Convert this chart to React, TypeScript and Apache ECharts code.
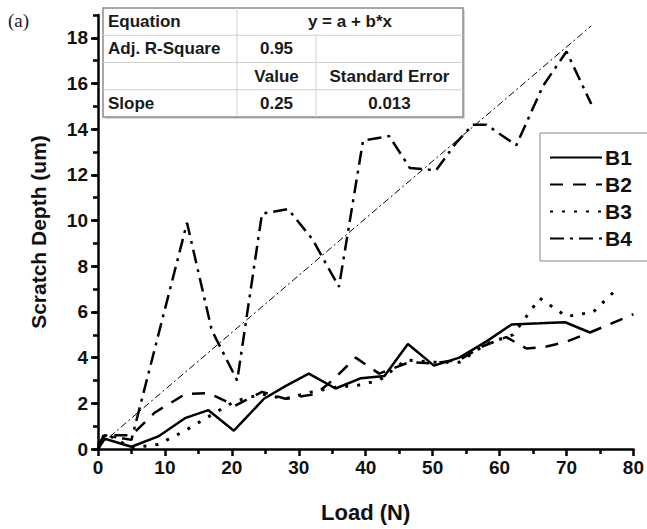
import React, { useEffect, useRef } from "react";
import * as echarts from "echarts";

const b1Load = [0, 1, 5, 9, 13, 16.5, 20.3, 24.8, 28, 31.5, 35.5, 39.3, 42.8, 46.3, 50.2, 54, 58, 61.8, 66, 69.8, 73.5];
const b1Depth = [0, 0.45, 0.1, 0.55, 1.35, 1.7, 0.8, 2.2, 2.75, 3.3, 2.65, 3.1, 3.2, 4.6, 3.65, 4.0, 4.7, 5.45, 5.5, 5.55, 5.1];

const b2Load = [0, 1, 5, 8.5, 13, 16.5, 20.5, 24.5, 28, 32.5, 35, 38.5, 42, 46.5, 50, 54, 57.5, 61, 64, 66.5, 70, 73.5, 80];
const b2Depth = [0.1, 0.6, 0.6, 1.6, 2.4, 2.45, 1.9, 2.5, 2.2, 2.4, 3.0, 4.0, 3.3, 3.8, 3.75, 3.9, 4.5, 4.9, 4.4, 4.45, 4.7, 5.1, 5.9];

const b3Load = [0, 1, 5, 9, 13, 17, 20.5, 24.5, 28, 32, 35.5, 39, 42, 46, 50, 54, 58, 62, 66, 70, 74, 77.5];
const b3Depth = [0, 0.7, 0.05, 0.2, 0.8, 1.5, 2.1, 2.4, 2.2, 2.5, 2.7, 2.8, 3.0, 3.9, 3.8, 3.8, 4.6, 5.0, 6.6, 5.8, 6.0, 7.0];

const b4Load = [0, 1, 5, 13.3, 17, 20.8, 24.5, 28.4, 32, 36, 39.6, 43.5, 46.6, 50.5, 53.5, 56, 58, 62.5, 66.5, 70, 73.7];
const b4Depth = [0.2, 0.6, 0.4, 9.9, 5.2, 3.0, 10.3, 10.5, 9.2, 7.1, 13.5, 13.7, 12.3, 12.2, 13.4, 14.2, 14.2, 13.3, 15.9, 17.4, 15.1];

const fitIntercept = 0.1;
const fitSlope = 0.25;
const fitRange = [0, 73.7];

const seriesNames = ["B1", "B2", "B3", "B4"];
const yMajorTicks = [0, 2, 4, 6, 8, 10, 12, 14, 16, 18];

const tableRows = [
  ["Equation", "y = a + b*x", ""],
  ["Adj. R-Square", "0.95", ""],
  ["", "Value", "Standard Error"],
  ["Slope", "0.25", "0.013"],
];

const FONT = "Arial, 'Liberation Sans', sans-serif";

const zip = (xs: number[], ys: number[]) => xs.map((x, i) => [x, ys[i]]);

export default function App() {
  const ref = useRef<HTMLDivElement>(null);
  useEffect(() => {
    if (!ref.current) return;
    const chart = echarts.init(ref.current, undefined, { renderer: "svg" });

    const lineBase = { type: "line", symbol: "none", showSymbol: false, yAxisIndex: 0, xAxisIndex: 0, z: 3 };

    const tx = 103, ty = 8, tw = 360, rh = 27.25;
    const c1 = 237, c2 = 316;
    const graphics: any[] = [];
    graphics.push({
      type: "rect",
      shape: { x: tx + 2, y: ty + 2, width: tw, height: rh * 4 },
      style: { fill: "#d8d8d8" },
      z: 5,
    });
    graphics.push({
      type: "rect",
      shape: { x: tx, y: ty, width: tw, height: rh * 4 },
      style: { fill: "#fff", stroke: "#8a8a8a", lineWidth: 1.5 },
      z: 6,
    });
    for (let i = 1; i < 4; i++) {
      graphics.push({
        type: "line",
        shape: { x1: tx, y1: ty + rh * i, x2: tx + tw, y2: ty + rh * i },
        style: { stroke: "#d0d0d0", lineWidth: 1 },
        z: 7,
      });
    }
    graphics.push({
      type: "line",
      shape: { x1: c1, y1: ty, x2: c1, y2: ty + rh * 4 },
      style: { stroke: "#d0d0d0", lineWidth: 1 },
      z: 7,
    });
    graphics.push({
      type: "line",
      shape: { x1: c2, y1: ty + rh, x2: c2, y2: ty + rh * 4 },
      style: { stroke: "#d0d0d0", lineWidth: 1 },
      z: 7,
    });
    tableRows.forEach((row, r) => {
      const cy = ty + rh * r + rh / 2;
      const txtStyle = { fontFamily: FONT, fontWeight: "bold", fontSize: 17, fill: "#1a1a1a", verticalAlign: "middle" };
      if (row[0]) graphics.push({ type: "text", x: tx + 5, y: cy, style: { ...txtStyle, text: row[0], align: "left" }, z: 8 });
      if (r === 0) {
        graphics.push({ type: "text", x: (c1 + tx + tw) / 2, y: cy, style: { ...txtStyle, text: row[1], align: "center" }, z: 8 });
      } else {
        if (row[1]) graphics.push({ type: "text", x: (c1 + c2) / 2, y: cy, style: { ...txtStyle, text: row[1], align: "center" }, z: 8 });
        if (row[2]) graphics.push({ type: "text", x: (c2 + tx + tw) / 2, y: cy, style: { ...txtStyle, text: row[2], align: "center" }, z: 8 });
      }
    });
    graphics.push({
      type: "text",
      x: 8,
      y: 11,
      style: { text: "(a)", fontFamily: "'Liberation Serif', 'DejaVu Serif', serif", fontSize: 19, fill: "#222" },
      z: 8,
    });

    const option: any = {
      animation: false,
      backgroundColor: "#fff",
      grid: { left: 98, right: 13, top: 15, bottom: 80, containLabel: false },
      legend: {
        data: seriesNames,
        orient: "vertical",
        left: 540,
        top: 133,
        itemWidth: 52,
        itemHeight: 14,
        itemGap: 6,
        padding: [14, 20, 12, 9],
        backgroundColor: "#fff",
        borderColor: "#888",
        borderWidth: 1,
        itemStyle: { opacity: 0, color: "rgba(0,0,0,0)", borderWidth: 0 },
        textStyle: { fontFamily: FONT, fontWeight: "bold", fontSize: 21, color: "#111", padding: [0, 0, 0, -2] },
        selectedMode: false,
        z: 10,
      },
      xAxis: {
        type: "value",
        min: 0,
        max: 80,
        interval: 10,
        name: "Load (N)",
        nameLocation: "middle",
        nameGap: 52,
        nameTextStyle: { fontFamily: FONT, fontWeight: "bold", fontSize: 22, color: "#111" },
        axisLine: { show: true, onZero: false, lineStyle: { color: "#000", width: 2.5 } },
        axisTick: { show: true, inside: false, length: 7, lineStyle: { color: "#000", width: 2.5 } },
        minorTick: { show: true, splitNumber: 2, length: 5, lineStyle: { color: "#000", width: 2.5 } },
        axisLabel: { fontFamily: FONT, fontWeight: "bold", fontSize: 19, color: "#111", margin: 9 },
        splitLine: { show: false },
        minorSplitLine: { show: false },
      },
      yAxis: [
        {
          type: "value",
          min: 0,
          max: 19,
          interval: 1,
          position: "left",
          axisLine: { show: true, onZero: false, lineStyle: { color: "#000", width: 2.5 } },
          axisTick: { show: true, inside: false, length: 5, lineStyle: { color: "#000", width: 2.5 } },
          axisLabel: { show: false },
          splitLine: { show: false },
        },
        {
          type: "value",
          min: 0,
          max: 19,
          interval: 2,
          position: "left",
          name: "Scratch Depth (um)",
          nameLocation: "middle",
          nameGap: 49,
          nameRotate: 90,
          nameTextStyle: { fontFamily: FONT, fontWeight: "bold", fontSize: 21, color: "#111" },
          axisLine: { show: false },
          axisTick: { show: true, inside: false, length: 7, customValues: yMajorTicks, lineStyle: { color: "#000", width: 2.5 } },
          axisLabel: {
            fontFamily: FONT,
            fontWeight: "bold",
            fontSize: 19,
            color: "#111",
            margin: 10,
            customValues: yMajorTicks,
            formatter: (v: number) => (v % 2 === 0 ? String(v) : ""),
          },
          splitLine: { show: false },
        },
      ],
      series: [
        {
          ...lineBase,
          name: "B1",
          data: zip(b1Load, b1Depth),
          lineStyle: { color: "#000", width: 2.5, type: "solid" },
          itemStyle: { color: "#000" },
        },
        {
          ...lineBase,
          name: "B2",
          data: zip(b2Load, b2Depth),
          lineStyle: { color: "#000", width: 2.5, type: [13, 10] },
          itemStyle: { color: "#000" },
        },
        {
          ...lineBase,
          name: "B3",
          data: zip(b3Load, b3Depth),
          lineStyle: { color: "#000", width: 3, type: [3, 9] },
          itemStyle: { color: "#000" },
        },
        {
          ...lineBase,
          name: "B4",
          data: zip(b4Load, b4Depth),
          lineStyle: { color: "#000", width: 2.5, type: [14, 6, 3, 6] },
          itemStyle: { color: "#000" },
        },
        {
          ...lineBase,
          name: "Fit",
          data: fitRange.map((x) => [x, fitIntercept + fitSlope * x]),
          lineStyle: { color: "#000", width: 1, type: [7, 3, 2, 3] },
          itemStyle: { color: "#000" },
          z: 2,
        },
      ],
      graphic: graphics,
    };
    chart.setOption(option);
    return () => chart.dispose();
  }, []);
  return (
    <div
      ref={ref}
      style={{ position: "absolute", left: 0, top: 0, width: 647, height: 529, background: "#fff" }}
    />
  );
}
